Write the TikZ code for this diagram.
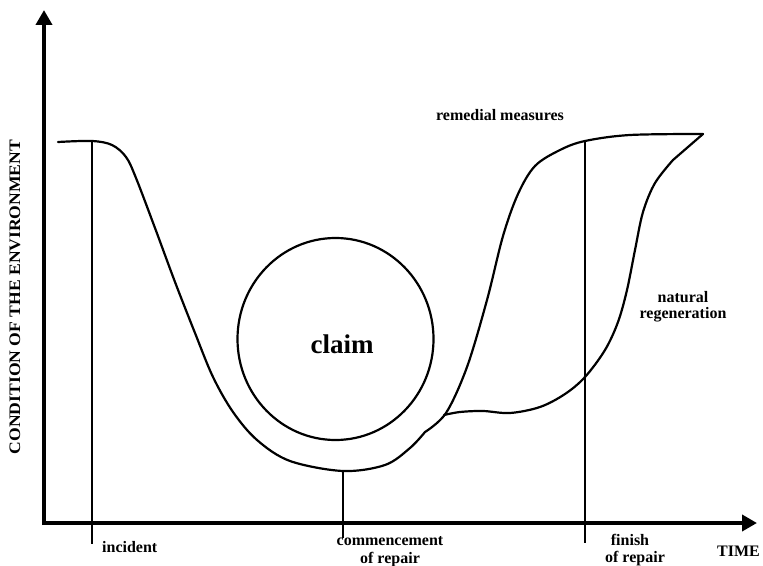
\documentclass[tikz,border=0pt]{standalone}
\usepackage{fontspec}
\setmainfont{Liberation Serif}
\usetikzlibrary{arrows.meta}
\begin{document}
\begin{tikzpicture}[x=1bp,y=-1bp,
  curve/.style={line width=2.2bp, line join=round, line cap=round},
  vline/.style={line width=1.3bp},
  axisline/.style={line width=4bp, -{Triangle[length=15bp,width=16bp]}},
  lbl/.style={inner sep=0pt, font=\fontsize{16bp}{19bp}\selectfont\bfseries},
]
\useasboundingbox (0,0) rectangle (763,566);
% axes
\coordinate (ytip) at (44,10);
\coordinate (xtip) at (757,523);
\coordinate (ybot) at (44,525);
\coordinate (xleft) at (42,523);
\draw[axisline] (ybot) -- (ytip);
\draw[axisline] (xleft) -- (xtip);
% main curve
\draw[curve] plot[smooth, tension=0.55] coordinates {
  (58,142) (92,141) (112,145) (126,157) (136,178) (155,228) (175,282)
  (195,333) (213,377) (233,412) (257,440) (290,461) (343,471) (385,465)
  (410,448) (425,432)};
% remedial measures
\draw[curve] plot[smooth, tension=0.55] coordinates {
  (425,432) (446,413) (467,367) (487,300) (503,236) (518,194) (535,166)
  (560,150) (585,141) (630,135) (703,134)};
% natural regeneration
\draw[curve] plot[smooth, tension=0.55] coordinates {
  (444,415) (460,412) (483,411) (510,413) (540,407) (565,394) (585,377)
  (605,350) (618,322) (627,290) (635,250) (643,212) (655,183) (673,160)}
  -- (703,134);
% claim circle
\draw[curve] (335.5,339) ellipse [x radius=98bp, y radius=101bp];
\node[inner sep=0pt, font=\fontsize{27bp}{30bp}\selectfont\bfseries, anchor=base] (claim) at (342,353) {claim};
% vertical markers
\coordinate (inctop) at (92,141);
\coordinate (incbot) at (92,544);
\coordinate (comtop) at (343,471);
\coordinate (combot) at (343,538);
\coordinate (fintop) at (585,141);
\coordinate (finbot) at (585,543);
\draw[vline] (inctop) -- (incbot);
\draw[vline] (comtop) -- (combot);
\draw[vline] (fintop) -- (finbot);
% labels
\node[lbl, anchor=base west] (incident) at (102,552) {incident};
\node[lbl, anchor=base] (comm1) at (390,545) {commencement};
\node[lbl, anchor=base] (comm2) at (390,563) {of repair};
\node[lbl, anchor=base] (fin1) at (630,545) {finish};
\node[lbl, anchor=base] (fin2) at (635,562) {of repair};
\node[lbl, anchor=base east] (time) at (760,556) {TIME};
\node[lbl, anchor=base] (remedial) at (500,121) {remedial measures};
\node[lbl, anchor=base] (nat1) at (683,302) {natural};
\node[lbl, anchor=base] (nat2) at (683,318) {regeneration};
\node[lbl, rotate=90, anchor=base] (ylabel) at (20,297) {\scalebox{1.1}[1]{CONDITION OF THE ENVIRONMENT}};
\end{tikzpicture}
\end{document}
